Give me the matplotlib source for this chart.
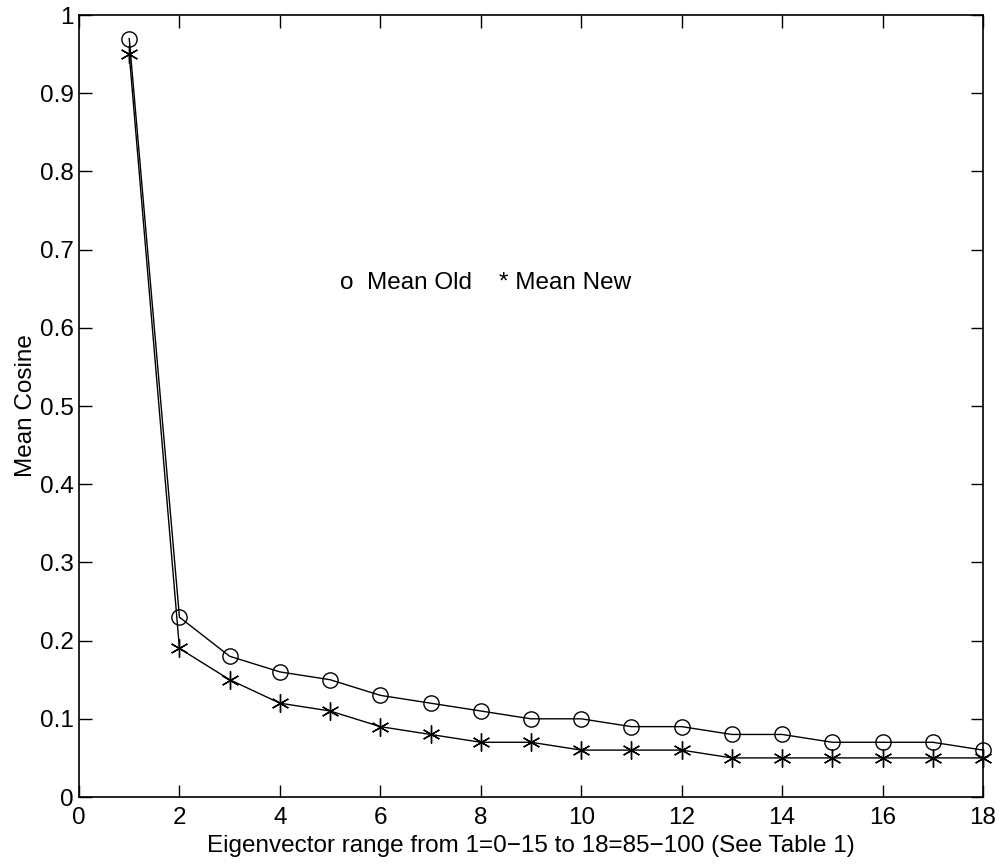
import matplotlib
matplotlib.use("Agg")
import matplotlib.pyplot as plt

plt.rcParams['font.family'] = ['Liberation Sans', 'DejaVu Sans']

x = list(range(1, 19))
mean_old = [0.97, 0.23, 0.18, 0.16, 0.15, 0.13, 0.12, 0.11, 0.10, 0.10,
            0.09, 0.09, 0.08, 0.08, 0.07, 0.07, 0.07, 0.06]
mean_new = [0.95, 0.19, 0.15, 0.12, 0.11, 0.09, 0.08, 0.07, 0.07, 0.06,
            0.06, 0.06, 0.05, 0.05, 0.05, 0.05, 0.05, 0.05]
xticks = list(range(0, 19, 2))
yticks = [round(0.1 * i, 1) for i in range(11)]
ytick_labels = ['0', '0.1', '0.2', '0.3', '0.4', '0.5', '0.6', '0.7', '0.8', '0.9', '1']

fs = 17.5
fig = plt.figure(figsize=(10, 8.65), dpi=100)
ax = fig.add_axes([0.079, 0.0786, 0.904, 0.904])
ax.plot(x, mean_old, color='black', lw=1, marker='o', ms=11, mfc='none', mew=1, clip_on=False)
ax.plot(x, mean_new, color='black', lw=1, marker=(6, 2, 0), ms=13, mew=1, clip_on=False)
ax.set_xlim(0, 18)
ax.set_ylim(0, 1)
ax.set_xticks(xticks)
ax.set_xticklabels([str(t) for t in xticks])
ax.set_yticks(yticks)
ax.set_yticklabels(ytick_labels)
ax.tick_params(direction='in', top=True, right=True, length=9, width=1, labelsize=fs)
ax.tick_params(axis='x', pad=7.5)
ax.tick_params(axis='y', pad=4)
for s in ax.spines.values():
    s.set_linewidth(1.2)
ax.set_xlabel('Eigenvector range from 1=0\u221215 to 18=85\u2212100 (See Table 1)', fontsize=fs, labelpad=4)
ax.set_ylabel('Mean Cosine', fontsize=fs, labelpad=2)
ax.text(5.2, 0.657, 'o  Mean Old    * Mean New', fontsize=fs, va='center', ha='left')
fig.savefig('out.png', dpi=100)
